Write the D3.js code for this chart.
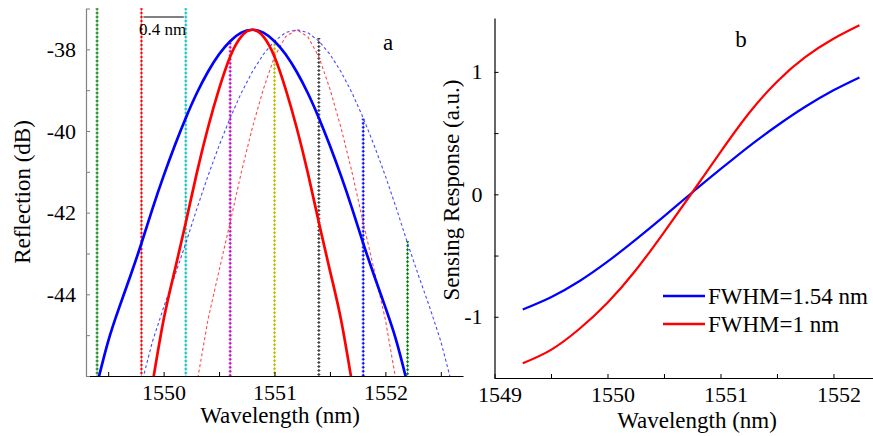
<!DOCTYPE html>
<html><head><meta charset="utf-8">
<script src="https://cdn.jsdelivr.net/npm/d3@7"></script>
<style>
body{margin:0;background:#fff}
</style>
</head><body>
<svg id="c" width="873" height="436"></svg>
<script>
// ---------- Panel a data ----------
const blueSolidWl = [1549.4,1549.5,1549.6,1549.7,1549.8,1549.9,1550.0,1550.1,1550.2,1550.3,1550.4,1550.5,1550.6,1550.7,1550.8,1550.9,1551.0,1551.1,1551.2,1551.3,1551.4,1551.5,1551.6,1551.7,1551.8,1551.9,1552.0,1552.1,1552.2];
const blueSolidDb = [-46.2,-45.15,-44.32,-43.55,-42.75,-41.90,-41.10,-40.36,-39.68,-39.07,-38.55,-38.12,-37.80,-37.59,-37.52,-37.59,-37.80,-38.12,-38.55,-39.07,-39.68,-40.36,-41.10,-41.90,-42.75,-43.55,-44.32,-45.15,-46.2];
const blueDashWl = [1549.8,1549.9,1550.0,1550.1,1550.2,1550.3,1550.4,1550.5,1550.6,1550.7,1550.8,1550.9,1551.0,1551.1,1551.2,1551.3,1551.4,1551.5,1551.6,1551.7,1551.8,1551.9,1552.0,1552.1,1552.2,1552.3,1552.4,1552.5,1552.6];
const blueDashDb = [-46.2,-45.15,-44.32,-43.55,-42.75,-41.90,-41.10,-40.36,-39.68,-39.07,-38.55,-38.12,-37.80,-37.59,-37.52,-37.59,-37.80,-38.12,-38.55,-39.07,-39.68,-40.36,-41.10,-41.90,-42.75,-43.55,-44.32,-45.15,-46.2];
const redSolidWl = [1549.9,1550.0,1550.1,1550.2,1550.3,1550.4,1550.5,1550.6,1550.7,1550.8,1550.9,1551.0,1551.1,1551.2,1551.3,1551.4,1551.5,1551.6,1551.7];
const redSolidDb = [-46.18,-44.62,-43.42,-42.24,-41.02,-39.92,-38.97,-38.18,-37.69,-37.52,-37.69,-38.18,-38.97,-39.92,-41.02,-42.24,-43.42,-44.62,-46.18];
const redDashWl = [1550.3,1550.4,1550.5,1550.6,1550.7,1550.8,1550.9,1551.0,1551.1,1551.2,1551.3,1551.4,1551.5,1551.6,1551.7,1551.8,1551.9,1552.0,1552.1];
const redDashDb = [-46.18,-44.62,-43.42,-42.24,-41.02,-39.92,-38.97,-38.18,-37.69,-37.52,-37.69,-38.18,-38.97,-39.92,-41.02,-42.24,-43.42,-44.62,-46.18];
const markerWl = [1549.4,1549.8,1550.2,1550.6,1551.0,1551.4,1551.8,1552.2];
const markerTopDb = [-37,-37,-37,-37.84,-37.78,-37.72,-39.70,-42.70];
const markerColors = ["#008000","#ff0000","#00bfbf","#bf00bf","#bfbf00","#404040","#0000ff","#008000"];
const aXTicks = [1549.5,1550,1550.5,1551,1551.5,1552,1552.5];
const aYTicks = [-46,-45,-44,-43,-42,-41,-40,-39,-38,-37];
const scaleBarWl = [1549.8,1550.2];
const scaleBarLabel = "0.4 nm";

// ---------- Panel b data ----------
const respWl = [1549.25,1549.5,1549.75,1550.0,1550.25,1550.5,1550.75,1551.0,1551.25,1551.5,1551.75,1552.0,1552.23];
const respBlue = [-0.94,-0.84,-0.71,-0.55,-0.37,-0.18,0.015,0.205,0.39,0.56,0.715,0.85,0.955];
const respRed = [-1.38,-1.27,-1.10,-0.885,-0.62,-0.31,0.015,0.345,0.66,0.92,1.12,1.27,1.38];
const legendLabels = ["FWHM=1.54 nm","FWHM=1 nm"];
const bXTicks = [1549,1549.5,1550,1550.5,1551,1551.5,1552];
const bYTicks = [-1.5,-1,-0.5,0,0.5,1];

const FAM = "'Liberation Serif', 'Times New Roman', 'DejaVu Serif', serif";
const svg = d3.select("#c").attr("font-family", FAM);
const TICKF = "22px";
const FONT = "23px";

// ---------------- Panel a ----------------
const xa = d3.scaleLinear().domain([1549.3,1552.7]).range([86,463]);
const ya = d3.scaleLinear().domain([-46,-37]).range([376,8.5]);

svg.append("defs").append("clipPath").attr("id","clipA")
  .append("rect").attr("x",86).attr("y",8).attr("width",377).attr("height",368);

const ga = svg.append("g");
markerWl.forEach((w,i)=>{
  const x = xa(w);
  ga.append("line").attr("x1",x).attr("x2",x).attr("y1",ya(markerTopDb[i])).attr("y2",ya(-46))
    .attr("stroke",markerColors[i]).attr("stroke-width",3).attr("stroke-dasharray","1,3");
  ga.append("line").attr("x1",x).attr("x2",x).attr("y1",ya(markerTopDb[i])).attr("y2",ya(-46))
    .attr("stroke",markerColors[i]).attr("stroke-width",1.2).attr("stroke-dasharray","3,1").attr("stroke-dashoffset",1);
});

const lineA = d3.line().x(d=>xa(d[0])).y(d=>ya(d[1]));
const lineAs = d3.line().x(d=>xa(d[0])).y(d=>ya(d[1])).curve(d3.curveNatural);
const clipG = ga.append("g").attr("clip-path","url(#clipA)");
clipG.append("path").datum(d3.zip(blueDashWl,blueDashDb)).attr("d",lineA)
  .attr("fill","none").attr("stroke","#4a4aff").attr("stroke-width",1.1).attr("stroke-dasharray","3,2.5");
clipG.append("path").datum(d3.zip(redDashWl,redDashDb)).attr("d",lineA)
  .attr("fill","none").attr("stroke","#ff4a4a").attr("stroke-width",1.1).attr("stroke-dasharray","3,2.5");
clipG.append("path").datum(d3.zip(blueSolidWl,blueSolidDb)).attr("d",lineAs)
  .attr("fill","none").attr("stroke","#0000ff").attr("stroke-width",2.7);
clipG.append("path").datum(d3.zip(redSolidWl,redSolidDb)).attr("d",lineAs)
  .attr("fill","none").attr("stroke","#ff0000").attr("stroke-width",2.7);

const axA = ga.append("g").attr("transform","translate(0,376)")
  .call(d3.axisBottom(xa).tickValues(aXTicks).tickSizeInner(-4).tickSizeOuter(0).tickPadding(8)
    .tickFormat(d=> Number.isInteger(d) ? String(d) : ""));
const ayA = ga.append("g").attr("transform","translate(86,0)")
  .call(d3.axisLeft(ya).tickValues(aYTicks).tickSizeInner(-4).tickSizeOuter(0).tickPadding(10)
    .tickFormat(d=> (d%2===0 && d>-46) ? String(d) : ""));
ayA.select(".domain").attr("stroke","#808080").attr("stroke-width",1.2);
ayA.selectAll(".tick line").attr("stroke","#808080");
axA.select(".domain").attr("stroke-width",1.2);
[axA,ayA].forEach(g=>g.attr("font-size",null).selectAll("text").attr("font-size",TICKF).attr("fill","#000"));

ga.append("line").attr("x1",xa(scaleBarWl[0])+2).attr("x2",xa(scaleBarWl[1])-2).attr("y1",17).attr("y2",17)
  .attr("stroke","#000").attr("stroke-width",1);
ga.append("text").attr("x",139).attr("y",35).attr("font-size","17px").text(scaleBarLabel);
ga.append("text").attr("x",383).attr("y",50).attr("font-size",FONT).text("a");
ga.append("text").attr("x",280).attr("y",423).attr("text-anchor","middle").attr("font-size",FONT).text("Wavelength (nm)");
ga.append("text").attr("transform","translate(30,192) rotate(-90)").attr("text-anchor","middle")
  .attr("font-size",FONT).text("Reflection (dB)");

// ---------------- Panel b ----------------
const xb = d3.scaleLinear().domain([1549,1552.35]).range([494.5,873]);
const yb = d3.scaleLinear().domain([-1.5,1.44]).range([378,18]);
const gb = svg.append("g");
const lineB = d3.line().x(d=>xb(d[0])).y(d=>yb(d[1])).curve(d3.curveNatural);
gb.append("path").datum(d3.zip(respWl,respBlue)).attr("d",lineB)
  .attr("fill","none").attr("stroke","#0000ff").attr("stroke-width",2.2);
gb.append("path").datum(d3.zip(respWl,respRed)).attr("d",lineB)
  .attr("fill","none").attr("stroke","#ff0000").attr("stroke-width",2.2);

const axB = gb.append("g").attr("transform","translate(0,378)")
  .call(d3.axisBottom(xb).tickValues(bXTicks).tickSizeInner(-4).tickSizeOuter(0).tickPadding(8)
    .tickFormat(d=> Number.isInteger(d) ? String(d) : ""));
axB.selectAll("text").attr("dx",5);
const ayB = gb.append("g").attr("transform","translate(494.5,0)")
  .call(d3.axisLeft(yb).tickValues(bYTicks).tickSizeInner(-4).tickSizeOuter(0).tickPadding(12)
    .tickFormat(d=> Number.isInteger(d) ? String(d) : ""));
[axB,ayB].forEach(g=>{g.attr("font-size",null).selectAll("text").attr("font-size",TICKF).attr("fill","#000");
  g.select(".domain").attr("stroke-width",1.2);});

gb.append("text").attr("x",741).attr("y",47).attr("text-anchor","middle").attr("font-size",FONT).text("b");
gb.append("text").attr("x",697).attr("y",428).attr("text-anchor","middle").attr("font-size",FONT).text("Wavelength (nm)");
gb.append("text").attr("transform","translate(459,190) rotate(-90)").attr("text-anchor","middle")
  .attr("font-size",FONT).text("Sensing Response (a.u.)");

const legColors = ["#0000ff","#ff0000"];
legendLabels.forEach((t,i)=>{
  const y = 296 + i*28;
  gb.append("line").attr("x1",663).attr("x2",705).attr("y1",y).attr("y2",y)
    .attr("stroke",legColors[i]).attr("stroke-width",2.6);
  gb.append("text").attr("x",708).attr("y",y+7.5).attr("font-size",FONT).text(t);
});

svg.selectAll("text").attr("font-family", FAM);
</script>
</body></html>
